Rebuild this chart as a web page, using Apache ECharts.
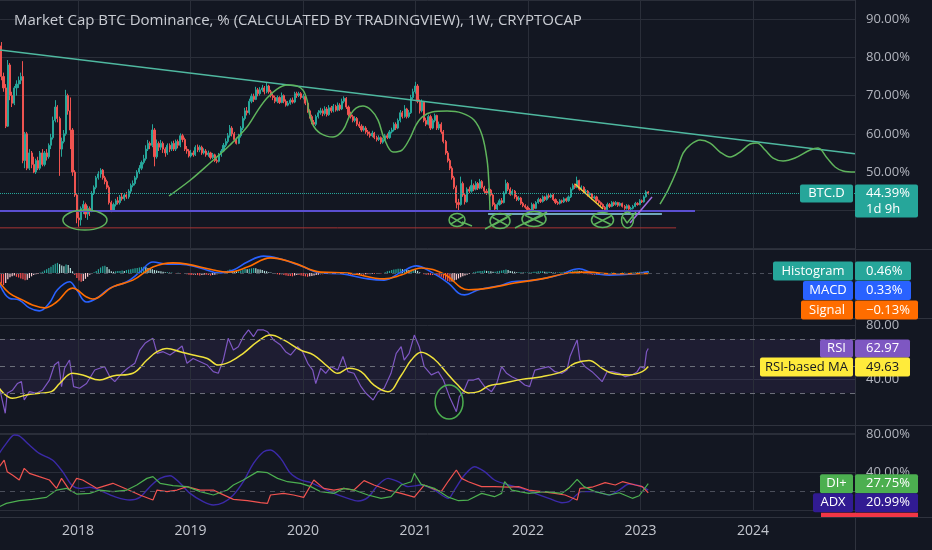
<!DOCTYPE html>
<html><head><meta charset="utf-8">
<script src="https://cdn.jsdelivr.net/npm/echarts/dist/echarts.min.js"></script>
<style>html,body{margin:0;padding:0;background:#131722;}#c{width:932px;height:550px;}</style>
</head><body><div id="c"></div>
<script>
// ---------- weekly bars (BTC.D, %) ----------
const START_YEAR = 2017.30;          // first weekly bar (mid April 2017)
const WEEK_YEARS = 7 / 365.25;
const FIRST_OPEN = 87;
const closes = [
83,75,72,62,78,70,68,72,73,74,
75,53,60,51,55,52,50,53,51,55,
52,55,54,57,59,63.5,67,64,56,58,
60,70,66,61,50,44,38,37.5,40.5,41.5,
39,40.5,39.8,44.4,46,48.5,49.5,50.5,48.5,47.5,
46,42,40,41.5,42.5,42,43.5,43,44,43.5,
45,46.5,47,48.5,50,51,52.5,53.5,56,57.5,
57,61,54,57.5,56.5,57.5,56,55,57,56,
57.5,56,58,57,59.5,58.5,56,55.5,54.2,55,
54.5,56.5,55.8,56.5,55,55.5,54.5,55,53.8,54.5,
53,52.8,54.5,55.5,57,58,59.5,61.5,60,58.5,
57.5,59.5,61.5,64,66,65.5,68.5,69.8,69,71.5,
70.5,71.5,72,71,72.5,71,70,69.5,68.5,69.5,
68.2,70,68.5,67.5,68,68.8,68.3,70.5,70,70.5,
69.5,69.8,68,66,64.5,63,62.5,64.5,65.5,66,
65.3,66.5,65,66.8,66,67.2,66.2,67.5,66.5,68.5,
69.3,67,65,64.5,63.5,64,62.5,62,61,61.5,
60.5,60,59.5,60.2,59,58.5,59,57.8,58.5,59.5,
59,60.5,61,62.5,61.5,63.5,65.5,64.5,66.5,64.5,
65.5,69.5,71,72.5,68.5,66,68.3,63.5,62.5,64.5,
61.5,63.5,64.8,61.5,62.5,60.5,58,55,53,51,
48.5,46,42,41.5,47,44,42.2,45.5,45,46.5,
45.5,47,45.8,47.5,46,45,44.5,45.3,44,41.5,
40.3,41.5,42.5,42,44.5,47,45.5,44.2,45,43.5,
42.8,43.2,41.8,41.2,40.8,40.2,39.8,41.5,40.5,42,
42.8,42.3,43.5,42.8,43.8,43.5,44,42.8,42,41.8,
42.5,42.2,43,42.5,43.5,45.5,46.5,46,47.8,45.5,
46,44.8,45,44,44.3,43.2,43.5,42.5,42,41.5,
40.8,40.2,41.5,41,42,41.5,42,41.3,41.8,41,
40.5,41.2,40.3,40.5,41,41.8,41.5,42.5,42.2,43.5,
44.8,44.39];
const highs = [
89.5,84,76,73,79.3,78.5,71,72.5,74,75,
76,79,60.5,60.5,56,55.5,54,53.5,54,55.5,
56,55.5,56,57.5,60,64.5,68.8,67.5,64.5,59,
61,71.5,70.5,69.5,61.5,50.5,44.5,39.5,41,42.5,
42,41.2,41,45,46.5,49,50.2,51,50.8,49,
48,46.5,42.5,42,43,43.5,44,44.5,44.5,44.8,
45.5,47,47.8,49,50.5,51.8,53,54.5,57,58.4,
58,62.5,61.5,58.5,58,58.4,58,56.5,57.5,57.5,
58,58.2,58.5,58.5,60.1,60,59,56.8,56,55.8,
55.6,57,57.2,57,56.9,56.2,56,55.6,55.3,55,
54.8,53.6,55,56,57.6,58.8,60.2,62.3,62,60.5,
59,60,62,64.6,66.8,67,69.2,70.5,70.5,72.3,
72,72.2,72.8,72.5,73.3,72.8,71.5,70.6,70,70,
69.8,70.8,70.3,69,68.6,69.3,69.5,71,71,71,
70.9,70.4,70.2,68.5,66.4,65,63.6,65,66.2,66.8,
66.6,67.2,67,67.5,67.3,67.8,67.6,68.2,68,69.2,
69.8,69.6,67.4,65.8,65,64.6,64.4,63.2,62.5,62.1,
62,61,60.6,60.8,60.5,59.5,59.6,59.3,59,60,
60.1,61,61.6,63,63,64,66.2,66,67.5,66.8,
66.2,70.2,71.8,73.6,73,69,69,68.6,64.2,65,
65,64,65.3,65,63.2,63,61,58.4,55.5,53.5,
51.5,49,46.5,43,48.8,47.5,44.5,46,46.2,48,
47,47.6,47.4,48.2,47.9,46.4,45.6,45.8,45.6,44.4,
42,42,43,43.2,45,48,47.4,46,45.5,45.3,
44,43.7,43.5,42.2,41.6,41.2,40.6,42,41.8,42.4,
43.3,43.2,43.9,43.8,44.2,44.3,44.5,44.3,43.1,42.4,
42.9,42.8,43.4,43.3,43.9,46,47,47,48.8,48,
46.5,46.3,45.5,45.3,44.7,44.5,43.9,43.8,42.8,42.3,
41.8,41.1,42,41.9,42.4,42.3,42.4,42.2,42.1,42,
41.4,41.6,41.5,40.9,41.4,42.2,42.1,42.9,42.8,43.9,
45.2,45];
const lows = [
82,74,71,61.5,61.8,68.8,67,67.5,70,72,
73,52.3,51,50.5,50.5,51,49.7,49.5,50.5,50.5,
51.5,51.5,53,53.5,56,58.5,63,63,49,54,
57.5,59.5,65,56,49,43.5,36.6,35.7,36,39,
38,37.5,38.5,39.5,44,45.5,48,48.5,48,46.8,
45.5,41.5,39.5,39.6,41,41.5,41.5,42.5,42.5,43,
43,44.5,46,46.5,48,49.5,50.5,52,53,55.5,
56,56.5,51.5,53.5,55.5,55.8,55,54,54.5,55.2,
55.5,55.5,55.5,56.2,56.5,57.8,55.5,54.8,53.8,53.8,
54,54.2,55.2,55.2,54.5,54.6,54,54,53.3,53.4,
52.6,52.3,52.5,54,55.2,56.5,57.5,59,59.3,58,
57.2,57.3,59,61,63.5,64.8,65,68,68.3,68.8,
69.8,70,71,70.3,70.6,70.5,69.5,68.8,68,68,
67.8,68,68,67.1,67.2,67.6,67.9,68,69.4,69.6,
69,69,67.5,65.5,64,62.5,61.8,62,64,65,
64.6,64.8,64.5,64.7,65.5,65.6,65.8,65.9,66,66.2,
68,66.5,64.5,64,63,63,62,61.5,60.5,60.6,
60,59.5,59,59.1,58.6,58,58.1,57.3,57.4,58.1,
58.6,58.7,60.1,60.6,61,61.2,63,64,64.2,64,
64.1,65.2,69,70.5,68,65.3,65.6,63,62,62.2,
61,61.2,63,61,61,60,57.5,54.5,52.5,50.5,
48,45.5,40.5,40,41.2,43.5,41.5,42,44.5,44.6,
45,45.2,45.3,45.5,45.6,44.5,44,44.2,43.6,41,
39.8,40,41.2,41.6,41.8,44.2,45,43.8,43.9,43,
42.4,42.4,41.4,40.8,40.4,39.8,39.4,39.5,40.1,40.3,
41.7,41.9,42,42.4,42.5,43.1,43.2,42.4,41.6,41.4,
41.5,41.8,41.9,42.1,42.2,43.2,45.2,45.6,45.8,45.1,
45.1,44.4,44.4,43.6,43.7,42.8,42.9,42.1,41.6,41.1,
40.4,39.8,40,40.6,40.8,41.1,41.2,40.9,41,40.7,
40.1,40.2,40,39.8,40.2,40.8,41.2,41.3,41.9,42,
43.3,44.1];

// ---------- MACD (weekly histogram; lines as [week, value]) ----------
const histogram = [
-1.8,-2.5,-2.9,-2.4,-1.5,-1.0,-0.8,-0.6,-0.9,-1.1,
-1.3,-1.5,-1.7,-1.6,-1.2,-0.8,-0.5,-0.3,-0.2,0.1,
0.3,0.6,0.9,1.2,1.5,1.9,2.2,2.4,2.1,1.8,
1.6,2.0,1.9,1.2,0.4,-0.5,-1.2,-1.8,-2.1,-1.9,
-1.4,-0.9,-0.4,-0.1,0.2,0.5,0.9,1.3,1.6,1.7,
1.4,0.9,0.4,0.3,0.4,0.5,0.5,0.6,0.5,0.7,
0.8,0.9,1.0,1.1,1.2,1.3,1.4,1.5,1.4,1.2,
1.0,0.9,0.7,0.6,0.5,0.4,0.3,0.2,0.2,0.1,
0.1,0.0,-0.1,0.05,-0.1,0.0,-0.2,-0.3,-0.4,-0.5,
-0.5,-0.4,-0.5,-0.6,-0.5,-0.4,-0.4,-0.5,-0.6,-0.5,
-0.4,-0.3,-0.1,0.1,0.3,0.5,0.6,0.8,0.7,0.5,
0.4,0.4,0.6,0.8,1.0,0.9,1.0,1.1,1.2,1.1,
0.9,0.8,0.7,0.5,0.4,0.2,0.1,-0.1,-0.2,-0.3,
-0.4,-0.3,-0.5,-0.6,-0.7,-0.7,-0.8,-0.6,-0.5,-0.5,
-0.6,-0.7,-0.8,-0.9,-0.8,-0.7,-0.6,-0.5,-0.4,-0.3,
-0.3,-0.2,-0.2,-0.1,-0.1,0.0,-0.1,-0.2,-0.1,0.0,
0.1,-0.1,-0.3,-0.4,-0.5,-0.5,-0.5,-0.4,-0.4,-0.4,
-0.3,-0.3,-0.3,-0.2,-0.2,-0.2,-0.1,-0.1,0.0,0.2,
0.4,0.5,0.7,0.8,0.9,1.0,1.0,0.9,0.9,0.8,
0.7,0.8,0.9,0.8,0.5,0.2,0.0,-0.3,-0.4,-0.4,
-0.5,-0.5,-0.4,-0.6,-0.7,-0.9,-1.3,-1.6,-1.9,-2.1,
-2.0,-1.8,-1.6,-1.3,-1.0,-0.8,-0.6,-0.4,-0.2,0.0,
0.2,0.3,0.4,0.5,0.5,0.6,0.5,0.5,0.4,0.3,
0.3,0.4,0.5,0.6,0.7,0.8,0.7,0.5,0.4,0.3,
0.2,0.2,0.2,0.1,0.1,0.1,0.1,0.2,0.3,0.3,
0.4,0.4,0.4,0.3,0.3,0.3,0.2,0.2,0.1,0.1,
0.2,0.2,0.3,0.3,0.3,0.4,0.5,0.6,0.6,0.5,
0.4,-0.1,-0.2,-0.3,-0.3,-0.4,-0.4,-0.3,-0.3,-0.2,
-0.2,-0.1,-0.1,0.0,0.1,0.1,0.0,-0.1,0.0,0.1,
0.1,0.0,0.0,0.1,0.1,0.2,0.2,0.3,0.3,0.35,
0.4,0.46];
const macdLine = [[0,-2.4],[4.7,-6],[9.3,-6.4],[14,-8.3],[18.6,-9],[23.3,-7.1],[27,-4],[32.6,-2.1],[35.9,-4],[40.5,-6.9],[45.2,-6],[51.3,-3.6],[59.2,-2.1],[65.2,0.2],[71.3,2.6],[77.8,2.1],[83.9,2.1],[93.2,1.2],[102.5,0],[108.6,0.7],[115.1,2.6],[122.6,4],[130.5,3.3],[139.8,1.7],[149.1,0],[158.4,-0.2],[171,-1.4],[178.5,-1.7],[186.4,0.2],[193.4,1.7],[200.4,0.2],[208.3,-2.4],[213,-4.8],[215.8,-5.2],[222.3,-4],[233,-2.9],[237.7,-2.1],[248.4,-1.7],[259.6,-0.5],[268.9,1],[274.9,0],[282.9,-0.5],[295,-0.2],[301,0.33]];
const signalLine = [[0,-2.1],[4.7,-4.8],[10.7,-6.4],[15.4,-7.6],[21,-8.3],[26.6,-6.9],[34,-3.6],[40.5,-5.7],[43.3,-6.2],[52.7,-3.3],[62,-1.7],[71.3,1.4],[80.6,2.4],[87.1,2.1],[99.3,0.7],[105.8,0.2],[115.1,1.4],[125.8,3.6],[136.5,2.4],[149.1,0.2],[161.7,0],[178.5,-1.4],[186.4,-0.5],[195.7,1.2],[206.4,-0.3],[217.6,-4],[226.9,-3.6],[239,-2.4],[251.6,-1.4],[264.2,0],[273.5,0.2],[282.9,-0.2],[301,-0.13]];

// ---------- RSI ----------
const rsiLine = [[0,34.7],[1.4,24.8],[2.8,15],[3.7,29.8],[6.1,32],[8.4,37],[10.3,38.4],[11.6,24.8],[14,31],[17.2,29.8],[20,32],[23.3,39.6],[25.6,50.7],[27.5,53.2],[28.9,34.7],[30.3,48.3],[32.6,54.4],[34.5,34.7],[37.3,33.5],[40.5,37],[44.3,47],[46.6,48.3],[48.9,49.5],[51.3,42],[53.6,38.4],[56.9,44.6],[59.6,48.3],[62.9,52],[65.2,61.8],[67.6,66.8],[69.9,69.3],[71.3,70.5],[73.2,59.4],[76,60.6],[79.2,58.1],[82.5,61.8],[84.8,64.8],[87.1,52],[89.9,55.6],[93.2,53.2],[96.5,50.7],[99.3,45.8],[101.6,44.6],[103.9,54.4],[106.2,70.5],[108.6,61.8],[110.9,64.3],[113.2,71.7],[115.6,76.7],[117.9,71.7],[119.8,76.7],[122.6,76.7],[124.4,75.4],[127.2,69.3],[130.5,65.5],[132.8,60.6],[135.1,58.1],[138.4,64.3],[140.7,60.6],[143.1,52],[145.4,47],[146.8,37],[149.1,48.3],[151.4,44.6],[153.8,49.5],[157,47],[159.4,57],[161.7,45.8],[164.5,44.6],[167.8,34.7],[170.1,29.8],[173.4,24.8],[175.7,31],[178.5,33.5],[181.7,44.6],[184.1,59.4],[186.4,64.3],[187.8,54.4],[190.1,59.4],[192.5,72.9],[194.8,64.3],[197.1,49.5],[200.4,43.4],[203.6,45.8],[206,39.6],[208.8,27.3],[212,16.2],[213.4,27.3],[215.3,31],[217.6,39.6],[220,39.6],[222.3,40.8],[225.1,34.7],[228.3,31],[230.7,37],[233,49.5],[235.3,44.6],[237.7,42.1],[240.9,39.6],[243.7,35.9],[246,34.7],[248.4,47],[251.6,48.3],[254.9,49.5],[257.7,45.8],[261,44.6],[263.3,47],[264.7,57],[266.6,64.3],[268,69.3],[269.3,54.4],[271.7,49.5],[274.9,45.8],[277.3,42.1],[279.6,38.4],[281.9,45.8],[284.3,45.8],[287.5,44.6],[290.3,42.1],[293.6,43.4],[295.9,45.8],[297.3,49.5],[299.2,48.3],[300.2,60.6],[301,62.97]];
const rsiMaLine = [[0,33.5],[6.1,26.1],[12.6,28.5],[18.6,29.8],[24.2,31],[28,37],[34,44.6],[38.7,43.4],[46.6,39.6],[52.7,42.6],[62,44.6],[68.5,54.4],[73.2,60.6],[77.8,63],[83.9,60.6],[89.9,58.1],[96.5,55.6],[101.6,50.7],[107.2,53.2],[113.2,59.4],[119.8,68],[125.8,72.9],[131.9,69.3],[139.8,61.8],[145.9,58.1],[152.4,49.5],[157,44.6],[162.2,48.3],[167.8,45.8],[173.8,35.9],[180.3,31],[186.4,43],[191.1,54.4],[195.7,60.2],[201.8,55],[207.4,45.2],[212,37],[217.6,30],[222.3,31],[226.9,35.2],[233,37],[242.3,40.1],[251.6,42.1],[261,45.8],[267,52],[273.5,54.1],[279.6,48.3],[284.3,44.6],[292.2,43.4],[298.2,45.8],[301,49.63]];

// ---------- DMI ----------
const adxLine = [[0,59.6],[3.3,70.2],[7,79],[9.3,78],[14,68.4],[18.6,59.6],[24.7,52.6],[29.4,40.4],[33.6,26.3],[37.3,22.8],[42,23.9],[48,19.3],[54.5,13.3],[60.6,10.5],[65.2,13.3],[69.9,24.6],[74.6,33.3],[79.2,36.1],[83.9,28.1],[88.5,17.5],[94.6,8.8],[99.3,5.3],[103.9,7.7],[108.6,15.8],[113.2,29.8],[117.9,49.1],[122.6,61.4],[125.8,63.2],[130.5,54.4],[135.1,38.6],[139.8,31.6],[144.5,28.8],[149.1,24],[155.2,17.5],[161.7,12.3],[166.4,9.5],[171,13.3],[175.7,26.3],[180.3,33.3],[185,29.8],[189.7,24.6],[195.7,26.3],[201.8,21],[208.3,12.3],[211.1,21],[215.8,36.8],[220.4,45.6],[225.1,40.4],[229.7,31.6],[236.3,26.3],[242.3,22.8],[248.4,17.5],[254.9,12.3],[261,7.7],[264.2,8.8],[270.3,19.3],[276.3,19.3],[282.9,15.8],[287.5,21],[292.2,27.4],[296.8,25.5],[301,20.99]];
const diPlusLine = [[0,3.5],[3.3,7],[9.3,9.8],[15.4,11.2],[21.9,13.3],[26.6,21],[31.2,22.8],[35.9,16.8],[42,17.5],[46.6,21],[52.7,19.3],[59.2,21],[63.8,26.3],[68.5,33.3],[71.3,35.1],[74.6,28.1],[80.6,25.6],[87.1,24.6],[93.2,19.3],[99.3,15.8],[105.8,21],[108.6,26.3],[113.2,31.6],[119.8,40.4],[124.4,39.3],[129.1,33.3],[133.7,29.8],[139.8,28.1],[144.5,24.6],[149.1,19.3],[155.2,17.5],[159.8,22.8],[164.5,21],[171,15.8],[177.1,12.3],[181.7,14],[186.4,26.3],[191.1,29.8],[192.5,38.6],[195.7,27],[201.8,22.8],[208.3,13.5],[213,9.8],[217.6,10.5],[223.7,17.5],[229.7,14],[233,17.5],[234.4,29.8],[237.7,21],[245.6,17.5],[253,19.3],[261,17.5],[264.2,22.8],[268,32.3],[271.2,24.6],[276.3,19.3],[282.9,15.8],[287.5,18.2],[293.6,12.3],[296.8,15],[301,27.75]];
const diMinusLine = [[0,45.6],[2.3,52.6],[3.7,40.4],[6.1,36.8],[9.3,31.6],[11.6,43.9],[14,38.6],[18.6,35.1],[23.3,31.6],[26.6,22.8],[28.9,33.3],[32.6,21],[35.9,33.3],[38.7,31.6],[45.2,22.8],[52.7,28.1],[59.2,21.8],[65.2,15.8],[71.3,10.5],[73.2,21],[77.8,19.3],[82.5,21],[87.1,24.6],[93.2,21],[99.3,21],[102.5,17.5],[108.6,11.2],[115.1,9.8],[121.2,7.7],[124.4,7],[125.8,15.8],[131.9,17.5],[136.5,15.8],[141.2,13.3],[145.9,31.6],[150.5,22.8],[155.2,21],[159.8,22.8],[164.5,21],[169.2,30.9],[173.8,26.3],[180.3,21],[186.4,17.5],[192.5,13.5],[197.1,26.3],[201.8,21.8],[205,19.3],[208.3,30.5],[212,42.1],[214.4,33.3],[217.6,29.8],[223.7,24.6],[229.7,24.6],[236.3,24],[240.9,24.6],[245.6,21],[251.6,19.3],[257.7,17.5],[262.4,15.8],[268,10.5],[269.3,22.8],[274.9,24],[281,28.8],[285.7,26.3],[289,29.8],[295,26.3],[298.2,24.6],[301,18.2]];

// ---------- last values shown in the price-scale tags ----------
const lastPrice = 44.39, lastHist = 0.46, lastMacd = 0.33, lastSignal = -0.13;
const lastRsi = 62.97, lastRsiMa = 49.63, lastDiPlus = 27.75, lastAdx = 20.99;

// ---------- time scale ----------
const X_MIN = 2017.307, X_MAX = 2024.906;      // visible range (years)
const yearTicks = [2018, 2019, 2020, 2021, 2022, 2023, 2024];

// ---------- drawings ([year, value]) ----------
const trendLine = [[2017.0, 83.0],[2024.906, 54.8]];
const purpleSupport = [[2017.0, 39.8],[2023.484, 39.8]];
const redSupport = [[2017.0, 35.4],[2023.316, 35.4]];
const cyanSupport = [[2021.645, 39.0],[2023.19, 39.0]];
const yellowDown = [[2022.418, 46.86],[2022.667, 40.33]];
const purpleUp = [[2022.907, 36.67],[2023.102, 43.46]];
const curveHistory = [[2018.809,43.73],[2019.0,47.91],[2019.173,52.35],[2019.351,57.06],[2019.502,61.76],[2019.6,66.21],[2019.68,69.35],[2019.769,71.7],[2019.858,72.75],[2019.947,72.48],[2020.0,71.44],[2020.036,68.82],[2020.053,65.69],[2020.089,62.29],[2020.151,60.2],[2020.267,59.15],[2020.356,60.98],[2020.418,64.9],[2020.471,66.73],[2020.533,67.25],[2020.604,66.21],[2020.667,63.59],[2020.72,58.89],[2020.8,55.23],[2020.88,55.75],[2020.951,58.89],[2021.004,62.29],[2021.058,64.38],[2021.147,65.69],[2021.28,65.95],[2021.413,65.42],[2021.52,63.59],[2021.591,59.67],[2021.636,53.14],[2021.653,46.6],[2021.662,40.07]];
const curveProjection = [[2023.173,41.63],[2023.244,45.29],[2023.324,50.52],[2023.378,54.97],[2023.44,57.06],[2023.529,58.37],[2023.618,57.58],[2023.707,55.23],[2023.796,53.92],[2023.884,55.23],[2023.973,57.32],[2024.036,57.58],[2024.107,55.75],[2024.178,53.66],[2024.267,52.88],[2024.373,53.66],[2024.507,55.75],[2024.578,56.27],[2024.658,53.66],[2024.729,51.31],[2024.8,50.26],[2024.906,50.0]];
const scribbles = [
  [[2021.413,36.93],[2021.502,35.88]],
  [[2021.618,35.1],[2021.858,39.0]],
  [[2021.884,35.36],[2022.169,39.54]],
  [[2022.844,38.24],[2022.88,36.67],[2022.96,39.54]]
];
// ellipses: [year, value, radiusYears, radiusValue, crossed]
const mainCircles = [
  [2018.062,37.45,0.196,2.61,false],
  [2021.369,37.45,0.071,1.7,true],
  [2021.751,37.19,0.089,1.96,true],
  [2022.053,37.71,0.107,1.96,true],
  [2022.662,37.45,0.098,1.96,true],
  [2022.884,37.45,0.053,2.09,false]
];
const rsiCircle = [2021.298,23.33,0.124,12.6];

// ---------- build ----------
const wk = w => START_YEAR + w * WEEK_YEARS;
const toXY = arr => arr.map(p => [wk(p[0]), p[1]]);
const candleData = closes.map((c, i) => [wk(i), i === 0 ? FIRST_OPEN : closes[i - 1], c, lows[i], highs[i]]);
const histData = histogram.map((h, i) => [wk(i), h]);
const histColors = histogram.map((h, i) => {
  const p = i ? histogram[i - 1] : h;
  if (h >= 0) return h >= p ? '#26a69a' : '#b2dfdb';
  return h <= p ? '#ff5252' : '#ffcdd2';
});

const FONT = '"Open Sans", "Noto Sans", sans-serif';
const GRID_R = 77;
const PANES = [0, 249, 318, 425, 517];
const gridLine = '#2a2e39';
const txt = '#b2b5be';

const grids = [
  {left: 0, right: GRID_R, top: 0, height: 248.5},
  {left: 0, right: GRID_R, top: 249, height: 69},
  {left: 0, right: GRID_R, top: 318, height: 115.5},
  {left: 0, right: GRID_R, top: 425, height: 85}
];
const xAxes = grids.map((g, k) => ({
  type: 'value', gridIndex: k, min: X_MIN, max: X_MAX,
  axisLine: {show: false}, axisTick: {show: false}, axisLabel: {show: false}, splitLine: {show: false}
}));
const yLab = (fmt) => ({color: txt, fontSize: 13, fontFamily: FONT, margin: 11, formatter: fmt});
const yAxes = [
  {type: 'value', gridIndex: 0, position: 'right', min: 30, max: 95, interval: 10,
   axisLine: {show: false}, axisTick: {show: false},
   axisLabel: yLab(v => (Number.isInteger(v) && v >= 40 && v <= 90) ? v.toFixed(2) + '%' : ''),
   splitLine: {lineStyle: {color: gridLine}}},
  {type: 'value', gridIndex: 1, position: 'right', min: -10.7, max: 5.7, show: false},
  {type: 'value', gridIndex: 2, position: 'right', min: 0, max: 85.56, interval: 40,
   axisLine: {show: false}, axisTick: {show: false},
   axisLabel: yLab(v => (v === 40 || v === 80) ? v.toFixed(2) : ''),
   splitLine: {lineStyle: {color: gridLine}}},
  {type: 'value', gridIndex: 3, position: 'right', min: 0, max: 89.5, interval: 40,
   axisLine: {show: false}, axisTick: {show: false},
   axisLabel: yLab(v => (v === 40 || v === 80) ? v.toFixed(2) + '%' : ''),
   splitLine: {lineStyle: {color: gridLine}}}
];

// vertical year lines (and year labels under the last pane) through each pane's x scale
const yearSeries = k => ({
  type: 'line', xAxisIndex: k, yAxisIndex: k, data: [], silent: true, z: 1,
  markLine: {symbol: 'none', silent: true, z: 1,
    lineStyle: {color: gridLine, width: 1, type: 'solid'},
    label: k === 3
      ? {show: true, position: 'start', distance: 14, color: '#c3c6ce', fontSize: 14, fontFamily: FONT,
         formatter: p => String(p.value)}
      : {show: false},
    emphasis: {disabled: true},
    data: yearTicks.map(y => ({xAxis: y}))}
});

const drawLine = (data, color, width, smooth) => ({
  type: 'line', xAxisIndex: 0, yAxisIndex: 0, data, showSymbol: false, symbol: 'none',
  silent: true, smooth: smooth || false, lineStyle: {color, width}, z: 4
});

const series = [
  yearSeries(0), yearSeries(1), yearSeries(2), yearSeries(3),
  {type: 'candlestick', xAxisIndex: 0, yAxisIndex: 0, data: candleData,
   dimensions: ['t', 'open', 'close', 'lowest', 'highest'],
   encode: {x: 't', y: ['open', 'close', 'lowest', 'highest']},
   barWidth: 1.6, silent: true,
   itemStyle: {color: '#26a69a', color0: '#ef5350', borderColor: '#26a69a', borderColor0: '#ef5350', borderWidth: 1},
   markLine: {symbol: 'none', silent: true, label: {show: false},
     lineStyle: {color: '#26a69a', type: 'dotted', width: 1}, data: [{yAxis: lastPrice}]}},
  drawLine(trendLine, '#4fb8a0', 1.5),
  drawLine(purpleSupport, '#5a4fd0', 2),
  drawLine(redSupport, '#a83434', 1),
  drawLine(cyanSupport, '#8fd8ec', 1.5),
  drawLine(yellowDown, '#f2cf3a', 1.5),
  drawLine(purpleUp, '#a070e0', 1.5),
  drawLine(curveHistory, '#5fb45c', 1.5, 0.35),
  drawLine(curveProjection, '#5fb45c', 1.5, 0.35),
  ...scribbles.map(s => drawLine(s, '#5fb45c', 1.5)),
  // MACD
  {type: 'bar', xAxisIndex: 1, yAxisIndex: 1, data: histData, barWidth: 1.2, silent: true,
   itemStyle: {color: p => histColors[p.dataIndex]},
   markLine: {symbol: 'none', silent: true, label: {show: false},
     lineStyle: {color: '#4b4f5b', type: [4, 4], width: 1}, data: [{yAxis: 0}]}},
  {type: 'line', xAxisIndex: 1, yAxisIndex: 1, data: toXY(macdLine), showSymbol: false, smooth: 0.4,
   silent: true, lineStyle: {color: '#2962ff', width: 1.6}},
  {type: 'line', xAxisIndex: 1, yAxisIndex: 1, data: toXY(signalLine), showSymbol: false, smooth: 0.4,
   silent: true, lineStyle: {color: '#ff6d00', width: 1.6}},
  // RSI
  {type: 'line', xAxisIndex: 2, yAxisIndex: 2, data: toXY(rsiLine), showSymbol: false, silent: true,
   lineStyle: {color: '#7e57c2', width: 1.2},
   markArea: {silent: true, itemStyle: {color: 'rgba(126,87,194,0.1)'}, data: [[{yAxis: 30}, {yAxis: 70}]]},
   markLine: {symbol: 'none', silent: true, label: {show: false},
     lineStyle: {color: '#6b6e79', type: [5, 5], width: 1}, data: [{yAxis: 70}, {yAxis: 50}, {yAxis: 30}]}},
  {type: 'line', xAxisIndex: 2, yAxisIndex: 2, data: toXY(rsiMaLine), showSymbol: false, smooth: 0.4,
   silent: true, lineStyle: {color: '#f0e23c', width: 1.5}},
  // DMI
  {type: 'line', xAxisIndex: 3, yAxisIndex: 3, data: toXY(adxLine), showSymbol: false, smooth: 0.3,
   silent: true, lineStyle: {color: '#3b2aa8', width: 1.4},
   markLine: {symbol: 'none', silent: true, label: {show: false},
     lineStyle: {color: '#4b4f5b', type: [5, 5], width: 1}, data: [{yAxis: 20}]}},
  {type: 'line', xAxisIndex: 3, yAxisIndex: 3, data: toXY(diMinusLine), showSymbol: false, silent: true,
   lineStyle: {color: '#f05350', width: 1.2}},
  {type: 'line', xAxisIndex: 3, yAxisIndex: 3, data: toXY(diPlusLine), showSymbol: false, silent: true,
   lineStyle: {color: '#4caf50', width: 1.2}}
];

const chart = echarts.init(document.getElementById('c'), null, {renderer: 'canvas'});
chart.setOption({
  backgroundColor: '#131722',
  animation: false,
  title: {text: 'Market Cap BTC Dominance, % (CALCULATED BY TRADINGVIEW), 1W, CRYPTOCAP',
    left: 9, top: 8, textStyle: {color: '#c9ccd3', fontSize: 15, fontWeight: 'normal', fontFamily: FONT}},
  grid: grids, xAxis: xAxes, yAxis: yAxes, series
});

// ---------- overlays placed through the chart's own scales ----------
const G = [];
const W = 932, H = 550, SCALE_X = 855;
PANES.slice(1).forEach(y => G.push({type: 'line', z: 50, silent: true,
  shape: {x1: 0, y1: y + 0.5, x2: W, y2: y + 0.5}, style: {stroke: '#2f333e', lineWidth: 1}}));
G.push({type: 'line', z: 50, silent: true, shape: {x1: SCALE_X + 0.5, y1: 0, x2: SCALE_X + 0.5, y2: H},
  style: {stroke: '#2f333e', lineWidth: 1}});

const pix = (g, t, v) => chart.convertToPixel({gridIndex: g}, [t, v]);
function addEllipse(g, c, color, crossed) {
  const p = pix(g, c[0], c[1]);
  const px = pix(g, c[0] + c[2], c[1]);
  const py = pix(g, c[0], c[1] + c[3]);
  const rx = Math.abs(px[0] - p[0]), ry = Math.abs(py[1] - p[1]);
  G.push({type: 'ellipse', z: 60, silent: true, shape: {cx: p[0], cy: p[1], rx, ry},
    style: {fill: 'none', stroke: color, lineWidth: 1.5}});
  if (crossed) {
    G.push({type: 'line', z: 60, silent: true, shape: {x1: p[0] - rx * 0.75, y1: p[1] - ry * 0.5, x2: p[0] + rx * 0.75, y2: p[1] + ry * 0.6},
      style: {stroke: color, lineWidth: 1.5}});
    G.push({type: 'line', z: 60, silent: true, shape: {x1: p[0] - rx * 0.75, y1: p[1] + ry * 0.6, x2: p[0] + rx * 0.75, y2: p[1] - ry * 0.5},
      style: {stroke: color, lineWidth: 1.5}});
  }
}
mainCircles.forEach(c => addEllipse(0, c, '#5fb45c', c[4]));
addEllipse(2, rsiCircle, '#4caf50', false);

const yPix = (axis, v) => chart.convertToPixel({yAxisIndex: axis}, v);
const LABEL_FONT = '13px ' + FONT;
function tag(yc, leftX, bg, name, nameColor, valueText, valueW, h, extra) {
  const boxTop = yc - h / 2;
  G.push({type: 'rect', z: 100, silent: true, shape: {x: leftX, y: boxTop, width: SCALE_X - 2 - leftX, height: h, r: 2}, style: {fill: bg}});
  G.push({type: 'text', z: 101, silent: true, style: {text: name, x: (leftX + SCALE_X - 2) / 2, y: yc, fill: nameColor,
    font: LABEL_FONT, align: 'center', verticalAlign: 'middle'}});
  const vh = extra ? h + 15 : h;
  G.push({type: 'rect', z: 100, silent: true, shape: {x: SCALE_X, y: boxTop, width: valueW, height: vh, r: 2}, style: {fill: bg}});
  G.push({type: 'text', z: 101, silent: true, style: {text: valueText, x: SCALE_X + 11, y: yc, fill: nameColor,
    font: LABEL_FONT, align: 'left', verticalAlign: 'middle'}});
  if (extra) G.push({type: 'text', z: 101, silent: true, style: {text: extra, x: SCALE_X + 11, y: yc + 16, fill: nameColor,
    font: LABEL_FONT, align: 'left', verticalAlign: 'middle'}});
}
const fmtPct = v => (v < 0 ? '\u2212' : '') + Math.abs(v).toFixed(2) + '%';
// main pane
tag(yPix(0, lastPrice), 800, '#26a69a', 'BTC.D', '#ffffff', fmtPct(lastPrice), 63, 18, '1d 9h');
// MACD pane (stacked labels)
let y1 = yPix(1, lastHist);
tag(y1, 773, '#26a69a', 'Histogram', '#ffffff', fmtPct(lastHist), 56, 19);
tag(y1 + 19.5, 803, '#2962ff', 'MACD', '#ffffff', fmtPct(lastMacd), 56, 19);
tag(y1 + 39, 801, '#ff6d00', 'Signal', '#ffffff', fmtPct(lastSignal), 63, 19);
// RSI pane
const yr = yPix(2, lastRsi);
tag(yr, 820, '#7e57c2', 'RSI', '#ffffff', lastRsi.toFixed(2), 55, 18);
tag(Math.max(yPix(2, lastRsiMa), yr + 18.5), 760, '#ffeb3b', 'RSI-based MA', '#131722', lastRsiMa.toFixed(2), 55, 19);
// DMI pane
const yd = yPix(3, lastDiPlus);
tag(yd, 820, '#4caf50', 'DI+', '#ffffff', fmtPct(lastDiPlus), 63, 19);
tag(Math.max(yPix(3, lastAdx), yd + 19), 813, '#311b92', 'ADX', '#ffffff', fmtPct(lastAdx), 63, 19);
const diMinusTop = Math.max(yPix(3, lastAdx), yd + 19) + 10;
G.push({type: 'rect', z: 100, silent: true, shape: {x: 821, y: diMinusTop, width: 97, height: Math.max(0, PANES[4] - diMinusTop)},
  style: {fill: '#f23645'}});

chart.setOption({graphic: {elements: G}});
</script></body></html>
